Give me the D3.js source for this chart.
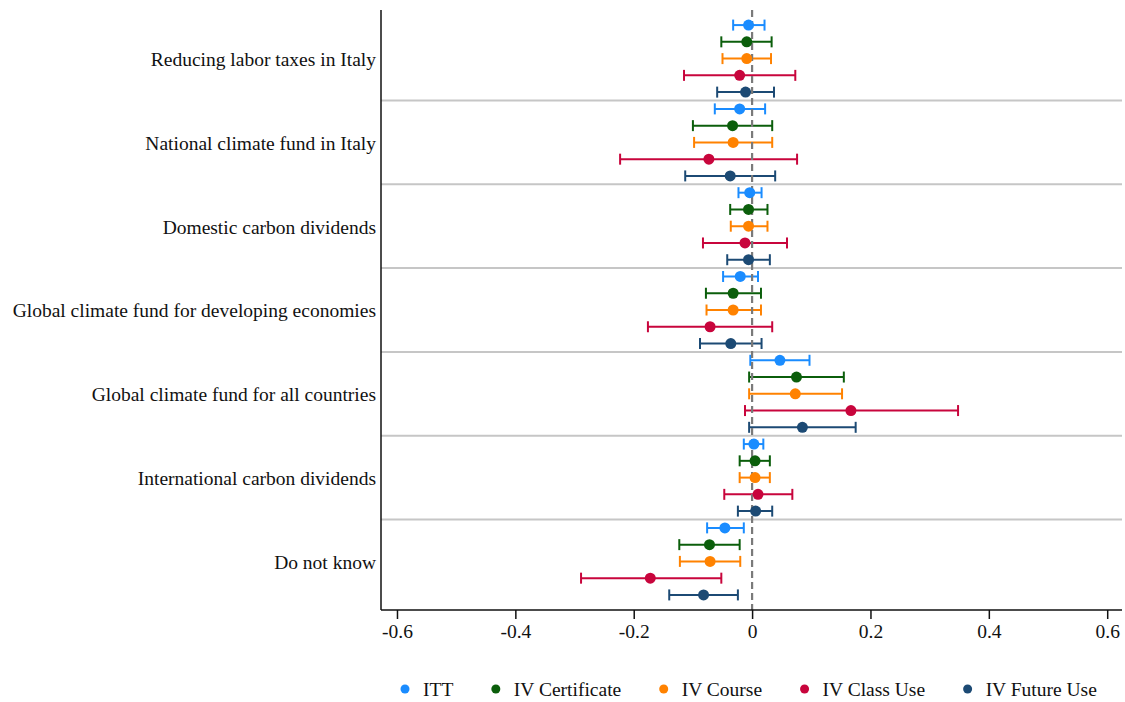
<!DOCTYPE html>
<html>
<head>
<meta charset="utf-8">
<script src="https://cdn.jsdelivr.net/npm/d3@7"></script>
<style>
  html, body { margin: 0; padding: 0; background: #fff; }
  svg { display: block; }
  text { font-family: "Liberation Serif", "Times New Roman", serif; fill: #111; }
</style>
</head>
<body>
<svg id="chart" width="1125" height="702"></svg>
<script>
// Outcome categories (top to bottom)
const categories = [
  "Reducing labor taxes in Italy",
  "National climate fund in Italy",
  "Domestic carbon dividends",
  "Global climate fund for developing economies",
  "Global climate fund for all countries",
  "International carbon dividends",
  "Do not know"
];

// Estimator names, in the order they are stacked inside each category
const seriesNames = ["ITT", "IV Certificate", "IV Course", "IV Class Use", "IV Future Use"];
const seriesColors = ["#1a8cff", "#0b5e0b", "#ff8200", "#c8053c", "#1c4a74"];

// Point estimates and 95% confidence bounds, one value per category
const ittEst  = [-0.006, -0.021, -0.004, -0.020, 0.047, 0.003, -0.046];
const ittLo   = [-0.032, -0.063, -0.023, -0.049, -0.003, -0.014, -0.076];
const ittHi   = [ 0.021,  0.022,  0.016,  0.010,  0.097,  0.019, -0.014];

const certEst = [-0.009, -0.033, -0.006, -0.032, 0.075, 0.005, -0.072];
const certLo  = [-0.052, -0.100, -0.037, -0.078, -0.005, -0.021, -0.123];
const certHi  = [ 0.033,  0.034,  0.026,  0.015,  0.155,  0.030, -0.021];

const courseEst = [-0.009, -0.032, -0.006, -0.032, 0.073, 0.005, -0.071];
const courseLo  = [-0.050, -0.098, -0.036, -0.077, -0.005, -0.021, -0.122];
const courseHi  = [ 0.032,  0.034,  0.026,  0.015,  0.152,  0.030, -0.020];

const classEst = [-0.021, -0.073, -0.012, -0.071, 0.167, 0.010, -0.172];
const classLo  = [-0.115, -0.223, -0.083, -0.176, -0.012, -0.047, -0.289];
const classHi  = [ 0.073,  0.076,  0.059,  0.034,  0.348,  0.068, -0.052];

const futureEst = [-0.011, -0.037, -0.006, -0.036, 0.085, 0.006, -0.082];
const futureLo  = [-0.059, -0.113, -0.042, -0.088, -0.005, -0.024, -0.140];
const futureHi  = [ 0.037,  0.039,  0.030,  0.016,  0.175,  0.034, -0.024];

// x-axis ticks
const tickValues = [-0.6, -0.4, -0.2, 0, 0.2, 0.4, 0.6];
const tickLabels = ["-0.6", "-0.4", "-0.2", "0", "0.2", "0.4", "0.6"];

(function draw() {
  const estimates = [ittEst, certEst, courseEst, classEst, futureEst];
  const lowers    = [ittLo, certLo, courseLo, classLo, futureLo];
  const uppers    = [ittHi, certHi, courseHi, classHi, futureHi];

  const nS = seriesNames.length;
  const rows = [];
  categories.forEach((cat, g) => {
    seriesNames.forEach((s, k) => {
      rows.push({ row: g * nS + k, series: k, est: estimates[k][g], lo: lowers[k][g], hi: uppers[k][g] });
    });
  });

  const svg = d3.select("#chart");
  const pl = 381, pr = 1122, pt = 10, pb = 610;
  const fontSize = 19.5;

  const x = d3.scaleLinear().domain([-0.627, 0.625]).range([pl, pr]);
  const nRows = categories.length * nS;
  const y = d3.scaleLinear().domain([-0.9, nRows - 1 + 0.9]).range([pt, pb]);

  // Separators between categories
  const seps = d3.range(1, categories.length).map(g => g * nS - 0.5);
  svg.append("g").selectAll("line").data(seps).join("line")
    .attr("x1", pl).attr("x2", pr)
    .attr("y1", d => y(d)).attr("y2", d => y(d))
    .attr("stroke", "#c6c6c6").attr("stroke-width", 2);

  // Confidence intervals with end caps
  const ci = svg.append("g").selectAll("g").data(rows).join("g")
    .attr("stroke", d => seriesColors[d.series])
    .attr("stroke-width", 2);
  ci.append("line")
    .attr("x1", d => x(d.lo)).attr("x2", d => x(d.hi))
    .attr("y1", d => y(d.row)).attr("y2", d => y(d.row));
  ci.append("line")
    .attr("x1", d => x(d.lo)).attr("x2", d => x(d.lo))
    .attr("y1", d => y(d.row) - 5.5).attr("y2", d => y(d.row) + 5.5);
  ci.append("line")
    .attr("x1", d => x(d.hi)).attr("x2", d => x(d.hi))
    .attr("y1", d => y(d.row) - 5.5).attr("y2", d => y(d.row) + 5.5);

  // Reference line at zero
  svg.append("line")
    .attr("x1", x(0)).attr("x2", x(0))
    .attr("y1", pt).attr("y2", pb)
    .attr("stroke", "#7a7a7a").attr("stroke-width", 2.2)
    .attr("stroke-dasharray", "7,4");

  // Point estimates
  svg.append("g").selectAll("circle").data(rows).join("circle")
    .attr("cx", d => x(d.est)).attr("cy", d => y(d.row))
    .attr("r", 5.5)
    .attr("fill", d => seriesColors[d.series]);

  // Category labels, centred on the middle estimator of each group
  svg.append("g").selectAll("text").data(categories).join("text")
    .attr("x", pl - 5)
    .attr("y", (d, g) => y(g * nS + (nS - 1) / 2))
    .attr("dy", "0.38em")
    .attr("text-anchor", "end")
    .attr("font-size", fontSize)
    .text(d => d);

  // Axes
  svg.append("line")
    .attr("x1", pl).attr("x2", pl).attr("y1", pt).attr("y2", pb)
    .attr("stroke", "#111").attr("stroke-width", 1.5);

  const xAxis = d3.axisBottom(x)
    .tickValues(tickValues)
    .tickFormat((d, i) => tickLabels[i])
    .tickSize(9)
    .tickPadding(5)
    .tickSizeOuter(0);
  const gx = svg.append("g").attr("transform", `translate(0,${pb})`).call(xAxis);
  gx.select(".domain").attr("stroke", "#111").attr("stroke-width", 1.5)
    .attr("d", `M${pl},0H${pr}`);
  gx.selectAll(".tick line").attr("stroke", "#111").attr("stroke-width", 1.5);
  gx.selectAll(".tick text")
    .attr("font-family", "Liberation Serif, Times New Roman, serif")
    .attr("font-size", fontSize).attr("fill", "#111");

  // Legend
  const legend = svg.append("g").attr("transform", "translate(405,689)");
  const items = legend.selectAll("g").data(seriesNames).join("g");
  items.append("circle").attr("r", 4.5).attr("cx", 0).attr("cy", 0)
    .attr("fill", (d, i) => seriesColors[i]);
  items.append("text").attr("x", 18).attr("y", 0).attr("dy", "0.36em")
    .attr("font-size", fontSize).text(d => d);
  let cursor = 0;
  const gap = 42.5;
  items.each(function () {
    const w = d3.select(this).select("text").node().getComputedTextLength();
    d3.select(this).attr("transform", `translate(${cursor},0)`);
    cursor += 18 + w + gap;
  });
})();
</script>
</body>
</html>
